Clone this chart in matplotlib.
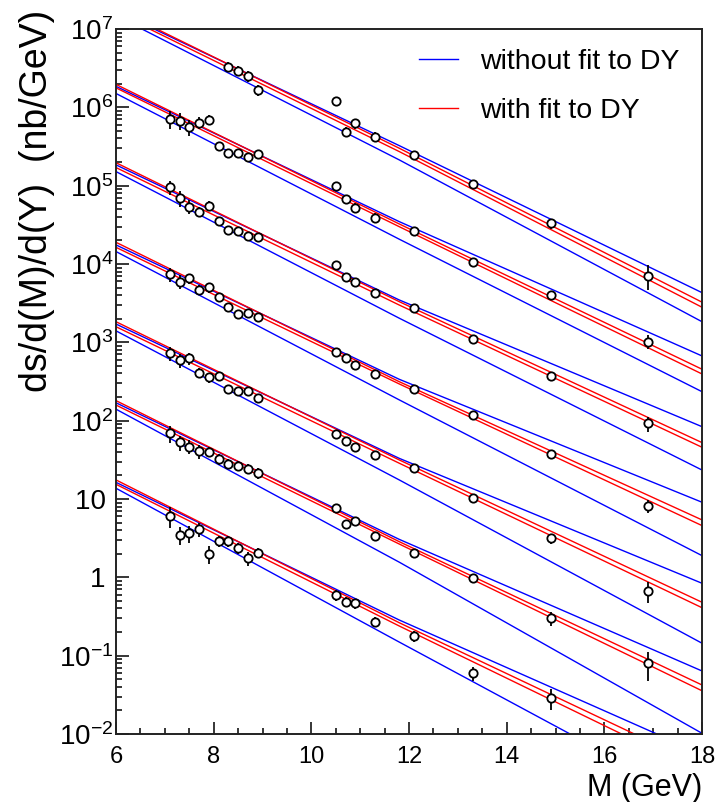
import numpy as np
import matplotlib
matplotlib.use("Agg")
import matplotlib.pyplot as plt
from matplotlib.ticker import FixedLocator, FixedFormatter, MultipleLocator

plt.rcParams["font.family"] = ["Liberation Sans", "DejaVu Sans"]
plt.rcParams["mathtext.fontset"] = "custom"
plt.rcParams["mathtext.rm"] = "Liberation Sans"
plt.rcParams["mathtext.it"] = "Liberation Sans:italic"

# mass bins (GeV)
m_all = [7.1, 7.3, 7.5, 7.7, 7.9, 8.1, 8.3, 8.5, 8.7, 8.9,
         10.5, 10.7, 10.9, 11.3, 12.1, 13.3, 14.9, 16.9]
m_g6 = [8.3, 8.5, 8.7, 8.9, 10.5, 10.7, 10.9, 11.3, 12.1, 13.3, 14.9, 16.9]
m_g0 = m_all[:-1]

# measured cross sections, each rapidity bin shifted by a factor 10
y_g6 = [3.30e6, 2.94e6, 2.51e6, 1.66e6, 1.20e6, 4.9e5, 6.25e5, 4.2e5,
        2.46e5, 1.04e5, 3.3e4, 7.1e3]
y_g5 = [7.1e5, 6.75e5, 5.56e5, 6.37e5, 6.89e5, 3.24e5, 2.59e5, 2.59e5, 2.30e5,
        2.54e5, 1.0e5, 6.76e4, 5.24e4, 3.9e4, 2.66e4, 1.06e4, 4.02e3, 1.02e3]
y_g4 = [9.53e4, 6.9e4, 5.39e4, 4.66e4, 5.5e4, 3.57e4, 2.72e4, 2.66e4, 2.28e4,
        2.23e4, 9.7e3, 6.89e3, 5.83e3, 4.23e3, 2.77e3, 1.09e3, 372, 92.5]
y_g3 = [7.4e3, 5.94e3, 6.56e3, 4.66e3, 5.04e3, 3.76e3, 2.85e3, 2.30e3, 2.35e3,
        2.13e3, 759, 625, 513, 394, 251, 118, 37.5, 8.2]
y_g2 = [724, 594, 625, 409, 357, 371, 251, 241, 241, 193,
        67, 55.5, 46.5, 36.5, 25.1, 10.2, 3.15, 0.675]
y_g1 = [68.9, 52.9, 46.5, 41, 40.2, 32.4, 28, 26.6, 24.2, 21.3,
        7.6, 4.8, 5.23, 3.37, 2.06, 0.97, 0.30, 0.080]
y_g0 = [6.06, 3.47, 3.65, 4.1, 1.99, 2.91, 2.91, 2.35, 1.75, 2.06,
        0.594, 0.489, 0.466, 0.271, 0.178, 0.0596, 0.0285]

# relative errors
e_g6 = [0.15, 0.15, 0.15, 0.15, 0.12, 0.15, 0.15, 0.15, 0.12, 0.12, 0.15, 0.35]
e_g5 = [0.25, 0.25, 0.22, 0.17, 0.15, 0.12, 0.12, 0.12, 0.12, 0.12,
        0.12, 0.12, 0.15, 0.15, 0.1, 0.1, 0.1, 0.2]
e_g4 = [0.2, 0.22, 0.2, 0.15, 0.15, 0.12, 0.12, 0.12, 0.12, 0.12,
        0.1, 0.1, 0.1, 0.1, 0.08, 0.1, 0.12, 0.22]
e_g3 = [0.2, 0.2, 0.15, 0.15, 0.15, 0.12, 0.12, 0.12, 0.12, 0.12,
        0.1, 0.1, 0.1, 0.1, 0.1, 0.1, 0.12, 0.2]
e_g2 = [0.2, 0.2, 0.18, 0.15, 0.15, 0.12, 0.12, 0.12, 0.12, 0.12,
        0.1, 0.1, 0.12, 0.1, 0.1, 0.12, 0.15, 0.3]
e_g1 = [0.25, 0.22, 0.2, 0.2, 0.15, 0.15, 0.15, 0.15, 0.15, 0.15,
        0.12, 0.12, 0.12, 0.12, 0.12, 0.12, 0.2, 0.4]
e_g0 = [0.3, 0.25, 0.25, 0.2, 0.25, 0.15, 0.15, 0.15, 0.2, 0.15,
        0.15, 0.15, 0.15, 0.15, 0.15, 0.2, 0.3]

# theory curves read at a few masses: [blue_hi, red_hi, red_lo, blue_lo]
m_curve = [6.0, 11.8, 18.0]
curves_g6 = [[1.70e7, 3.24e5, 4.30e3], [1.80e7, 3.00e5, 3.25e3],
             [1.62e7, 2.72e5, 2.80e3], [1.47e7, 2.13e5, 1.83e3]]
curves_g5 = [[1.85e6, 3.47e4, 669], [1.96e6, 3.24e4, 453],
             [1.77e6, 2.99e4, 394], [1.50e6, 2.07e4, 234]]
curves_g4 = [[1.84e5, 3.47e3, 83.7], [1.96e5, 3.30e3, 52.4],
             [1.70e5, 2.99e3, 45.7], [1.51e5, 2.03e3, 23.4]]
curves_g3 = [[1.75e4, 337, 9.08], [1.89e4, 314, 5.40],
             [1.63e4, 294, 4.57], [1.44e4, 184, 1.89]]
curves_g2 = [[1.71e3, 33.0, 0.839], [1.83e3, 31.5, 0.480],
             [1.58e3, 28.6, 0.409], [1.40e3, 17.5, 0.144]]
curves_g1 = [[169, 3.05, 0.0637], [180, 2.85, 0.0422],
             [158, 2.66, 0.0356], [140, 1.56, 0.0102]]
curves_g0 = [[16.3, 0.285, 5.55e-3], [17.5, 0.263, 3.90e-3],
             [15.4, 0.239, 3.17e-3], [13.7, 0.149, 1.24e-3]]

ytick_vals = [1e-2, 1e-1, 1, 10, 1e2, 1e3, 1e4, 1e5, 1e6, 1e7]
ytick_labels = [r"$\mathregular{10^{-2}}$", r"$\mathregular{10^{-1}}$", "1 ", "10 ",
                r"$\mathregular{10^{2}}$", r"$\mathregular{10^{3}}$",
                r"$\mathregular{10^{4}}$", r"$\mathregular{10^{5}}$",
                r"$\mathregular{10^{6}}$", r"$\mathregular{10^{7}}$"]

groups = [
    (m_g6, y_g6, e_g6, curves_g6),
    (m_all, y_g5, e_g5, curves_g5),
    (m_all, y_g4, e_g4, curves_g4),
    (m_all, y_g3, e_g3, curves_g3),
    (m_all, y_g2, e_g2, curves_g2),
    (m_all, y_g1, e_g1, curves_g1),
    (m_g0, y_g0, e_g0, curves_g0),
]

fig = plt.figure(figsize=(7.18, 8.02), dpi=100)
ax = fig.add_axes([0.1616, 0.0848, 0.8162, 0.8791])

line_blue = line_red = None
for m, y, e, curves in groups:
    colors = ["#0000ff", "#ff0000", "#ff0000", "#0000ff"]
    for vals, c in zip(curves, colors):
        ln, = ax.plot(m_curve, vals, color=c, lw=1.0, zorder=2)
        if c == "#0000ff":
            line_blue = ln
        else:
            line_red = ln
    y = np.array(y)
    err = y * np.array(e)
    ax.errorbar(m, y, yerr=[err, err], fmt="o", ms=6, mfc="white", mec="black",
                mew=1.3, ecolor="black", elinewidth=1.3, capsize=0, zorder=3)

ax.set_yscale("log")
ax.set_xlim(6, 18)
ax.set_ylim(1e-2, 1e7)

ax.xaxis.set_major_locator(MultipleLocator(2))
ax.xaxis.set_minor_locator(MultipleLocator(0.5))
ax.yaxis.set_major_locator(FixedLocator(ytick_vals))
ax.yaxis.set_major_formatter(FixedFormatter(ytick_labels))
ax.tick_params(which="both", direction="in", top=False, right=False, width=1.1)
ax.tick_params(which="major", length=9)
ax.tick_params(which="minor", length=4.5)
ax.tick_params(axis="x", labelsize=17, pad=9)
ax.tick_params(axis="y", labelsize=20, pad=2)
for s in ax.spines.values():
    s.set_linewidth(1.4)
    s.set_color("#222222")

ax.set_xlabel("M (GeV)", fontsize=22, loc="right")
ax.xaxis.set_label_coords(1.0, -0.055)
ax.set_ylabel("ds/d(M)/d(Y)  (nb/GeV)", fontsize=27, loc="top")
ax.yaxis.set_label_coords(-0.104, 1.027)

ax.legend([line_blue, line_red], ["without fit to DY", "with fit to DY"],
          loc="upper left", bbox_to_anchor=(0.517, 0.971), frameon=False,
          fontsize=20.5, handlelength=1.38, handletextpad=0.78,
          labelspacing=0.78, borderpad=0, borderaxespad=0)

fig.savefig("out.png", dpi=100)
